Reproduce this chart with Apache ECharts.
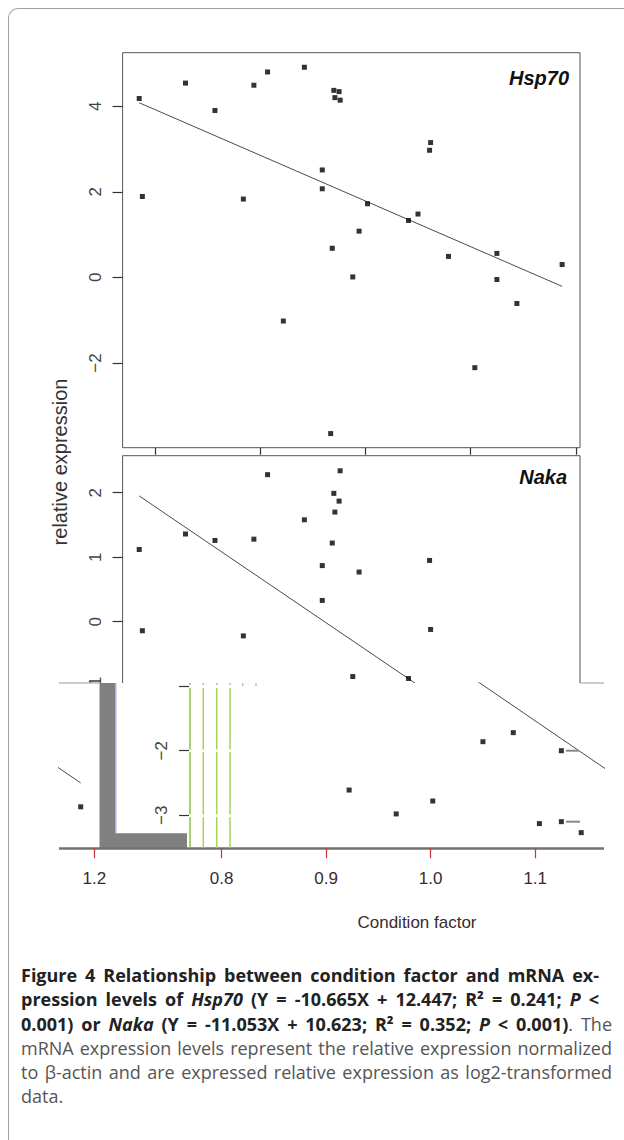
<!DOCTYPE html>
<html lang="en">

<head>
    <meta charset="UTF-8">
    <title>Figure 4</title>
    <style>
        body { margin: 0; background: #fff; width: 624px; height: 1140px; overflow: hidden; position: relative; }
        #box { position: absolute; left: 8px; top: 8px; width: 640px; height: 1160px;
               border-left: 1px solid #a0a0a0; border-top: 1px solid #a0a0a0; border-top-left-radius: 10px; }
        #main { position: absolute; left: 0; top: 0; width: 624px; height: 945px; }
        #caption { position: absolute; left: 21px; top: 963px; font-family: "Open Sans", sans-serif;
                   font-size: 18px; line-height: 24.3px; color: #555; }
        #caption div { white-space: nowrap; text-align: justify; text-align-last: justify; }
        #caption b { color: #222; }
    </style>
</head>

<body>
    <div id="box"></div>
    <div id="main"></div>
    <div id="caption">
        <div style="width:578px"><b>Figure 4 Relationship between condition factor and mRNA ex-</b></div>
        <div style="width:578px"><b>pression levels of <i>Hsp70</i> (Y = -10.665X + 12.447; R² = 0.241; <i>P</i> &lt;</b></div>
        <div style="width:591px"><b>0.001) or <i>Naka</i> (Y = -11.053X + 10.623; R² = 0.352; <i>P</i> &lt; 0.001)</b>. The</div>
        <div style="width:591px">mRNA expression levels represent the relative expression normalized</div>
        <div style="width:591px">to β-actin and are expressed relative expression as log2-transformed</div>
        <div style="text-align:left;text-align-last:left">data.</div>
    </div>

    <script src="https://cdn.jsdelivr.net/npm/echarts@6/dist/echarts.min.js"></script>
    <script>
        // condition factor of each fish, and log2 relative expression of the two genes
        var conditionFactor = [0.785, 0.788, 0.829, 0.857, 0.884, 0.894, 0.907, 0.922, 0.942, 0.959,
            0.959, 0.967, 0.9685, 0.970, 0.971, 0.975, 0.976, 0.988, 0.994, 1.002,
            1.041, 1.050, 1.061, 1.062, 1.079, 1.104, 1.125, 1.125, 1.144, 1.187];
        var hsp70 = [4.18, 1.89, 4.54, 3.90, 1.83, 4.49, 4.80, -1.02, 4.91, 2.51,
            2.07, -3.65, 0.68, 4.37, 4.20, 4.34, 4.14, 0.01, 1.08, 1.72,
            1.33, 1.48, 2.97, 3.15, 0.49, -2.11, 0.56, -0.05, -0.61, 0.30];
        var naka = [1.12, -0.14, 1.36, 1.26, -0.22, 1.28, 2.28, -2.61, 1.58, 0.87,
            0.33, -2.98, 1.22, 1.99, 1.70, 1.87, 2.34, -0.85, 0.77, -2.78,
            -0.88, -1.86, 0.95, -0.12, -1.72, -3.13, -2.00, -3.10, -3.27, -2.87];

        // regression lines, end points
        var fitX = [0.785, 1.187];
        var hsp70Fit = [4.08, -0.21];
        var nakaFit = [1.95, -2.50];

        // tick values
        var xTicks = [0.8, 0.9, 1.0, 1.1, 1.2];
        var hspTicks = [-2, 0, 2, 4];
        var nakaTicks = [-3, -2, -1, 0, 1, 2];

        var hspPts = conditionFactor.map(function (x, i) { return [x, hsp70[i]]; });
        var nakaPts = conditionFactor.map(function (x, i) { return [x, naka[i]]; });
        var hspLine = fitX.map(function (x, i) { return [x, hsp70Fit[i]]; });
        var nakaLine = fitX.map(function (x, i) { return [x, nakaFit[i]]; });

        var font = '"Liberation Sans", Arial, sans-serif';
        var minus = function (v) { return String(v).replace('-', '\u2212'); };
        var bandTxt = '#3a2a2c';

        function yAx(grid, min, max, ticks, labels, z) {
            return {
                type: 'value', gridIndex: grid, min: min, max: max, z: z || 3,
                axisLine: { show: false, onZero: false }, splitLine: { show: false },
                axisTick: { show: true, length: 10, customValues: ticks, lineStyle: { color: '#333', width: 1.2 } },
                axisLabel: {
                    customValues: labels, rotate: 90, margin: 19, fontSize: 17,
                    fontFamily: font, color: '#444', formatter: minus
                }
            };
        }

        function xAx(grid, min, max, ticks, labels, z, tickColor) {
            return {
                type: 'value', gridIndex: grid, min: min, max: max, z: z || 3,
                axisLine: { show: false, onZero: false }, splitLine: { show: false },
                axisTick: { show: true, length: labels ? 10 : 7, customValues: ticks, lineStyle: { color: tickColor || '#333', width: 1.2 } },
                axisLabel: labels ? {
                    customValues: labels, margin: 22, fontSize: 17, fontFamily: font, color: bandTxt,
                    formatter: function (v) { return v.toFixed(1); }
                } : { show: false }
            };
        }

        // the two full panels need no clipping, the shifted strip does
        function dots(xi, pts, z, clip) {
            return {
                type: 'scatter', xAxisIndex: xi, yAxisIndex: xi, data: pts, z: z || 2,
                symbol: 'rect', symbolSize: 5, clip: !!clip, itemStyle: { color: '#000' }
            };
        }

        function fit(xi, pts, z, clip) {
            return {
                type: 'line', xAxisIndex: xi, yAxisIndex: xi, data: pts, z: z || 2,
                showSymbol: false, clip: !!clip, lineStyle: { color: '#4a4a4a', width: 1 }
            };
        }

        // decorative glitch pieces in the lower strip
        var greenX = [190, 203.3, 216.7, 230];
        var greenSeg = [[683, 685], [688, 749.5], [752, 814.5], [817, 848]];
        var graphics = [
            { type: 'rect', z: 5, shape: { x: 59, y: 683, width: 565, height: 166 }, style: { fill: '#fff' } },
            { type: 'line', z: 6, shape: { x1: 59, y1: 683, x2: 99.5, y2: 683 }, style: { stroke: '#999', lineWidth: 1 } },
            { type: 'line', z: 6, shape: { x1: 580, y1: 683, x2: 604, y2: 683 }, style: { stroke: '#999', lineWidth: 1 } },
            { type: 'polygon', z: 6, shape: { points: [[99.5, 683], [115.4, 683], [115.4, 833.3], [187, 833.3], [187, 849], [99.5, 849]] }, style: { fill: '#808080' } },
            { type: 'line', z: 6, shape: { x1: 115.9, y1: 683, x2: 115.9, y2: 833 }, style: { stroke: '#9a9aff', lineWidth: 1 } },
            { type: 'line', z: 6, shape: { x1: 59, y1: 848.5, x2: 604, y2: 848.5 }, style: { stroke: '#727272', lineWidth: 2.5 } },
            { type: 'line', z: 11, shape: { x1: 566, y1: 750.7, x2: 579, y2: 750.7 }, style: { stroke: '#888', lineWidth: 2 } },
            { type: 'line', z: 11, shape: { x1: 566, y1: 821.7, x2: 580, y2: 821.7 }, style: { stroke: '#888', lineWidth: 2 } },
            { type: 'line', z: 6, shape: { x1: 242.7, y1: 683, x2: 242.7, y2: 686 }, style: { stroke: '#b5d96a', lineWidth: 1.5 } },
            { type: 'line', z: 6, shape: { x1: 256, y1: 683, x2: 256, y2: 686 }, style: { stroke: '#b5d96a', lineWidth: 1.5 } },
            {
                type: 'text', z: 6, x: 60, y: 462, rotation: Math.PI / 2,
                style: { text: 'relative expression', fontSize: 20, fontFamily: font, fill: '#333', align: 'center', verticalAlign: 'middle' }
            },
            {
                type: 'text', z: 6, x: 417, y: 922,
                style: { text: 'Condition factor', fontSize: 17, fontFamily: font, fill: bandTxt, align: 'center', verticalAlign: 'middle' }
            },
            {
                type: 'text', z: 6, x: 569, y: 78,
                style: { text: 'Hsp70', fontSize: 20, fontWeight: 'bold', fontStyle: 'italic', fontFamily: font, fill: '#111', align: 'right', verticalAlign: 'middle' }
            },
            {
                type: 'text', z: 6, x: 567, y: 477,
                style: { text: 'Naka', fontSize: 20, fontWeight: 'bold', fontStyle: 'italic', fontFamily: font, fill: '#111', align: 'right', verticalAlign: 'middle' }
            }
        ];
        greenX.forEach(function (gx, k) {
            greenSeg.forEach(function (s) {
                graphics.push({
                    type: 'line', z: 6, shape: { x1: gx, y1: s[0], x2: gx, y2: s[1] },
                    style: { stroke: k === 0 ? '#86c440' : '#a6d25a', lineWidth: 1.5 }
                });
            });
        });

        var myChart = echarts.init(document.getElementById('main'), null, { renderer: 'svg' });
        var option = {
            animation: false,
            grid: [
                { left: 122.6, top: 52.7, width: 457.4, height: 395, show: true, borderColor: '#555', borderWidth: 1 },
                { left: 122.6, top: 455.7, width: 457.4, height: 392.6, show: true, borderColor: '#555', borderWidth: 1 },
                { left: 189, top: 682.7, width: 415, height: 165.6 },
                { left: 59, top: 682.7, width: 40.5, height: 165.6 }
            ],
            xAxis: [
                xAx(0, 0.7692, 1.204, xTicks),
                { type: 'value', gridIndex: 1, min: 0.7692, max: 1.204, show: false },
                xAx(2, 0.7688, 1.1658, xTicks, xTicks, 10, '#c83838'),
                xAx(3, 1.1662, 1.205, xTicks, xTicks, 10, '#c83838')
            ],
            yAxis: [
                yAx(0, -3.98, 5.25, hspTicks, hspTicks),
                yAx(1, -3.513, 2.574, nakaTicks, nakaTicks),
                yAx(2, -3.513, -0.9455, [-3, -2, -1], [-3, -2], 10),
                { type: 'value', gridIndex: 3, min: -3.513, max: -0.9455, show: false }
            ],
            graphic: graphics,
            series: [
                dots(0, hspPts), fit(0, hspLine),
                dots(1, nakaPts), fit(1, nakaLine),
                dots(2, nakaPts, 10, true), fit(2, nakaLine, 10, true),
                dots(3, nakaPts, 10, true), fit(3, nakaLine, 10, true)
            ]
        };
        myChart.setOption(option);
    </script>
</body>

</html>
